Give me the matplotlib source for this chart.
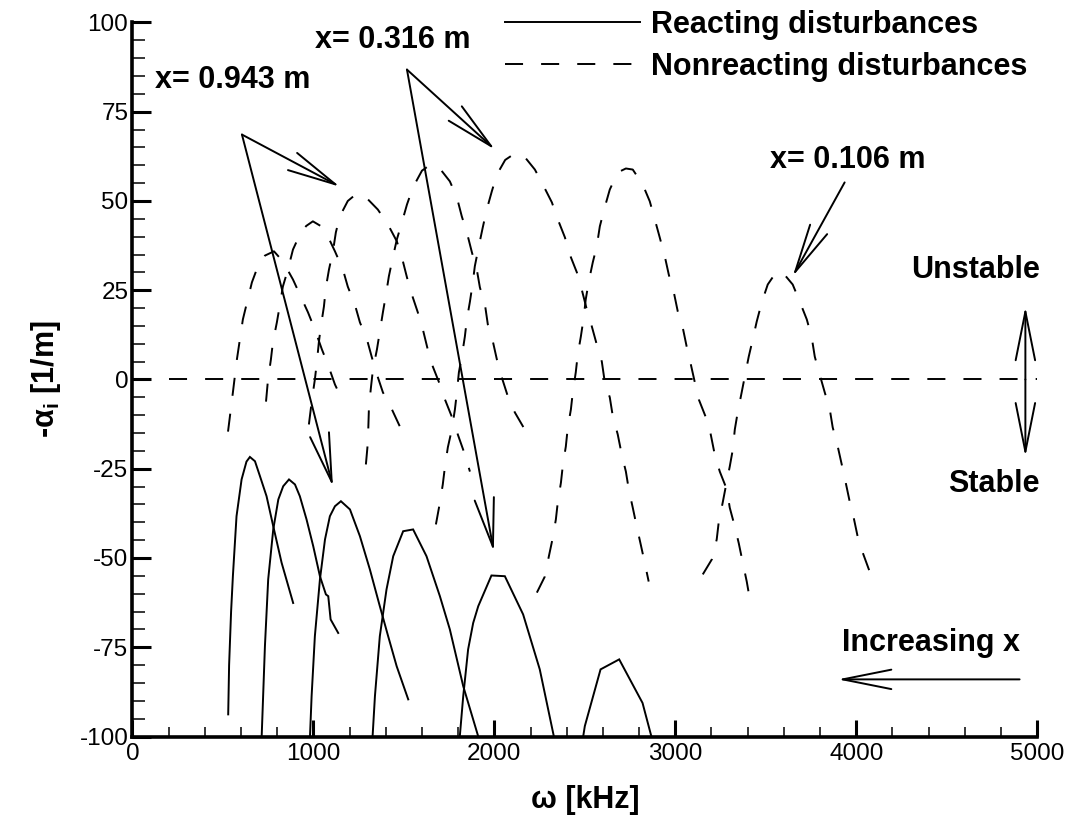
import matplotlib
matplotlib.use('Agg')
import matplotlib.pyplot as plt
from matplotlib.ticker import MultipleLocator

plt.rcParams['font.family'] = ['Liberation Sans', 'DejaVu Sans']
plt.rcParams['mathtext.fontset'] = 'custom'
plt.rcParams['mathtext.rm'] = 'Liberation Sans:bold'
plt.rcParams['mathtext.bf'] = 'Liberation Sans:bold'
plt.rcParams['mathtext.it'] = 'Liberation Sans:bold'
plt.rcParams['lines.scale_dashes'] = False
plt.rcParams['axes.unicode_minus'] = False

# ---------------- data ----------------
# Nonreacting disturbances (dashed)
nr1_x = [528, 555, 577, 610, 633, 660, 693, 732, 782, 831, 887, 925, 970, 1008, 1047, 1080, 1119, 1158]
nr1_y = [-14.6, -3.6, 5.6, 16.8, 21.6, 27.2, 31.7, 34.7, 35.9, 33.1, 28.0, 23.8, 18.8, 14.0, 8.4, 4.2, -1.4, -5.6]

nr2_x = [738, 749, 765, 776, 798, 815, 831, 859, 887, 925, 960, 997, 1040, 1075, 1119, 1163, 1190, 1229,
         1257, 1296, 1323, 1351, 1384, 1434, 1478, 1506]
nr2_y = [-6.2, 0.0, 5.6, 10.4, 16.0, 21.0, 26.0, 30.8, 36.4, 40.6, 43.0, 44.3, 43.0, 40.6, 35.9, 30.8, 26.0, 21.0,
         16.0, 11.2, 6.2, 1.4, -3.6, -8.4, -13.2, -14.6]

nr3_x = [975, 992, 1008, 1019, 1030, 1041, 1058, 1069, 1086, 1108, 1124, 1146, 1190, 1240, 1285, 1356, 1412,
         1461, 1489, 1517, 1544, 1577, 1605, 1632, 1660, 1699, 1727, 1771, 1798, 1837, 1865]
nr3_y = [-12.6, -5.6, 0.0, 4.8, 10.4, 14.8, 20.4, 25.8, 30.8, 35.9, 41.2, 45.7, 50.0, 52.1, 51.3, 47.6, 43.4,
         38.7, 34.2, 28.6, 23.8, 18.8, 14.0, 8.4, 3.6, -1.4, -5.6, -11.2, -15.4, -21.0, -25.8]

nr4_x = [1290, 1301, 1307, 1318, 1329, 1351, 1367, 1384, 1401, 1417, 1439, 1461, 1489, 1517, 1550, 1600, 1650,
         1700, 1754, 1793, 1820, 1848, 1876, 1903, 1920, 1948, 1964, 1992, 2014, 2041, 2075, 2113, 2168, 2196]
nr4_y = [-23.8, -17.6, -7.6, -2.2, 2.8, 8.4, 13.4, 18.8, 23.8, 28.9, 34.2, 39.2, 44.0, 49.0, 53.8, 58.5, 60.3,
         59.0, 55.5, 51.0, 45.7, 41.2, 35.6, 30.8, 25.8, 21.0, 15.4, 10.6, 5.6, 0.6, -4.8, -9.2, -14.0, -14.8]

nr5_x = [1677, 1699, 1715, 1727, 1743, 1765, 1782, 1793, 1804, 1820, 1837, 1848, 1865, 1881, 1892, 1914, 1936,
         1958, 1986, 2014, 2060, 2113, 2157, 2224, 2268, 2318, 2351, 2390, 2417, 2456, 2483, 2511, 2539, 2566,
         2594, 2610, 2638, 2655, 2682, 2704, 2727, 2743, 2765, 2787, 2809, 2831, 2853]
nr5_y = [-40.6, -34.5, -29.4, -24.4, -19.0, -14.0, -8.4, -3.6, 2.0, 6.4, 12.0, 16.8, 21.8, 27.2, 31.7, 37.3, 42.6,
         47.6, 52.7, 57.4, 61.5, 63.3, 63.0, 58.8, 54.6, 49.6, 44.8, 39.8, 35.0, 30.0, 25.2, 19.6, 14.8, 9.8,
         5.0, -0.6, -5.0, -10.4, -15.4, -21.0, -25.8, -30.8, -35.9, -41.2, -46.2, -51.3, -56.6]

nr6_x = [2235, 2279, 2301, 2323, 2340, 2351, 2368, 2379, 2395, 2406, 2423, 2434, 2450, 2461, 2478, 2494, 2505,
         2522, 2544, 2566, 2583, 2610, 2638, 2682, 2727, 2765, 2820, 2859, 2887, 2914, 2942, 2964, 2992, 3014,
         3041, 3063, 3086, 3108, 3130, 3169, 3196, 3218, 3246, 3285, 3301, 3329, 3351, 3373, 3395, 3417]
nr6_y = [-59.7, -55.2, -49.6, -44.3, -39.2, -34.2, -28.9, -23.8, -18.8, -13.4, -8.4, -3.4, 2.0, 7.0, 12.0, 17.4,
         22.4, 27.5, 32.8, 37.3, 42.9, 48.2, 53.2, 58.0, 59.1, 58.8, 54.6, 49.9, 44.8, 39.8, 34.5, 29.4, 24.4,
         19.0, 14.6, 9.2, 4.2, -0.8, -5.6, -10.6, -15.4, -21.0, -25.8, -30.8, -35.9, -41.2, -45.9, -51.3, -56.6,
         -63.0]

nr7_x = [3152, 3202, 3229, 3240, 3262, 3279, 3301, 3318, 3329, 3345, 3367, 3384, 3406, 3428, 3450, 3478, 3511,
         3550, 3588, 3649, 3688, 3727, 3754, 3771, 3798, 3826, 3854, 3870, 3898, 3920, 3942, 3964, 3986, 4008,
         4036, 4080]
nr7_y = [-54.6, -50.4, -44.8, -40.0, -34.5, -30.0, -24.4, -19.6, -14.0, -9.2, -3.6, 0.8, 6.4, 11.2, 16.2, 21.6,
         26.6, 29.5, 30.3, 26.6, 21.8, 16.8, 11.8, 6.4, 1.4, -3.6, -8.4, -13.4, -18.8, -23.8, -28.9, -34.2, -38.7,
         -44.0, -48.5, -54.6]

zero_x = [200, 5000]
zero_y = [0, 0]

# Reacting disturbances (solid)
r1_x = [529, 534, 545, 555, 575, 603, 630, 649, 677, 704, 741, 778, 824, 888]
r1_y = [-93.8, -80.0, -65.0, -55.0, -38.3, -28.0, -23.0, -21.7, -22.9, -27.0, -32.7, -41.1, -51.3, -62.6]

r2_x = [714, 732, 750, 778, 806, 833, 865, 898, 925, 962, 999, 1036, 1069, 1082, 1095, 1137]
r2_y = [-100, -74.7, -56.0, -42.0, -33.6, -29.9, -28.0, -29.4, -32.7, -39.2, -46.7, -55.1, -60.2, -60.7, -67.2, -71.0]

r3_x = [981, 990, 1008, 1036, 1064, 1091, 1119, 1152, 1202, 1257, 1312, 1367, 1413, 1460, 1524]
r3_y = [-100, -88.7, -71.9, -56.0, -44.8, -38.3, -35.5, -34.1, -36.4, -43.9, -53.2, -63.5, -71.9, -80.3, -89.6]

r4_x = [1327, 1340, 1367, 1404, 1441, 1496, 1551, 1625, 1699, 1754, 1828, 1911]
r4_y = [-100, -88.7, -71.9, -58.8, -49.5, -42.5, -42.0, -49.5, -60.7, -70.0, -85.9, -100]

r5_x = [1809, 1828, 1855, 1883, 1911, 1984, 2058, 2159, 2251, 2329]
r5_y = [-100, -88.7, -75.6, -68.2, -63.5, -54.9, -55.1, -65.8, -81.2, -100]

r6_x = [2491, 2500, 2587, 2690, 2819, 2868]
r6_y = [-100, -97.1, -81.2, -78.4, -90.6, -100]

x_ticks = [0, 1000, 2000, 3000, 4000, 5000]
y_ticks = [-100, -75, -50, -25, 0, 25, 50, 75, 100]

# ---------------- figure ----------------
fig = plt.figure(figsize=(10.78, 8.23), dpi=100)
ax = fig.add_axes([0.1229, 0.1051, 0.9621 - 0.1229, 0.9727 - 0.1051])

LW = 1.4
DASH = (0, (13, 13))

nr_sets = [(nr1_x, nr1_y), (nr2_x, nr2_y), (nr3_x, nr3_y), (nr4_x, nr4_y),
           (nr5_x, nr5_y), (nr6_x, nr6_y), (nr7_x, nr7_y)]
r_sets = [(r1_x, r1_y), (r2_x, r2_y), (r3_x, r3_y), (r4_x, r4_y), (r5_x, r5_y), (r6_x, r6_y)]

for i, (xs, ys) in enumerate(r_sets):
    ax.plot(xs, ys, color='black', lw=LW, solid_joinstyle='miter',
            label='Reacting disturbances' if i == 0 else None)
for i, (xs, ys) in enumerate(nr_sets):
    ax.plot(xs, ys, color='black', lw=LW, linestyle=DASH,
            label='Nonreacting disturbances' if i == 0 else None)
ax.plot(zero_x, zero_y, color='black', lw=LW, linestyle=DASH)

ax.set_xlim(0, 5000)
ax.set_ylim(-100, 100)
ax.set_xticks(x_ticks)
ax.set_yticks(y_ticks)
ax.xaxis.set_minor_locator(MultipleLocator(200))
ax.yaxis.set_minor_locator(MultipleLocator(5))

for s in ['top', 'right']:
    ax.spines[s].set_visible(False)
for s in ['left', 'bottom']:
    ax.spines[s].set_linewidth(2.6)

ax.tick_params(axis='both', which='major', direction='in', labelsize=17.5)
ax.tick_params(axis='x', which='major', length=12, width=2.2, pad=5)
ax.tick_params(axis='x', which='minor', direction='in', length=7, width=1.1)
ax.tick_params(axis='y', which='major', length=14, width=2.2, pad=3)
ax.tick_params(axis='y', which='minor', direction='in', length=9, width=1.1)

ax.set_xlabel('\u03c9 [kHz]', fontsize=22, fontweight='bold', labelpad=14)
ax.set_ylabel(r'-$\mathrm{\alpha}_{\mathrm{i}}$ [1/m]', fontsize=22, fontweight='bold', labelpad=12)

leg = ax.legend(loc='upper left', bbox_to_anchor=(0.3985, 1.035), frameon=False,
                prop={'weight': 'bold', 'size': 22}, handlelength=4.42,
                handletextpad=0.36, labelspacing=0.4, borderaxespad=0)

TXT = dict(fontsize=22, fontweight='bold', color='black')
AP = dict(arrowstyle='->,head_length=35,head_width=7', mutation_scale=1, lw=1.4,
          color='black', shrinkA=0, shrinkB=0)

ax.text(124, 84, 'x= 0.943 m', ha='left', va='center', **TXT)
ax.annotate('', xy=(1146, 54), xytext=(605, 68.6), arrowprops=AP)
ax.annotate('', xy=(1108, -30), xytext=(605, 68.6), arrowprops=AP)

ax.text(1008, 95.2, 'x= 0.316 m', ha='left', va='center', **TXT)
ax.annotate('', xy=(2003, 64.4), xytext=(1517, 86.8), arrowprops=AP)
ax.annotate('', xy=(1997, -48.2), xytext=(1517, 86.8), arrowprops=AP)

ax.text(3522, 61.6, 'x= 0.106 m', ha='left', va='center', **TXT)
ax.annotate('', xy=(3649, 28.9), xytext=(3936, 55.2), arrowprops=AP)

ax.text(5014, 30.8, 'Unstable', ha='right', va='center', **TXT)
ax.text(5014, -29.4, 'Stable', ha='right', va='center', **TXT)
ax.annotate('', xy=(4935, 20.4), xytext=(4935, 0), arrowprops=AP)
ax.annotate('', xy=(4935, -21.6), xytext=(4935, 0), arrowprops=AP)

ax.text(4411, -73.7, 'Increasing x', ha='center', va='center', **TXT)
ax.annotate('', xy=(3898, -84.0), xytext=(4903, -84.0), arrowprops=AP)

fig.savefig('out.png', dpi=100)
